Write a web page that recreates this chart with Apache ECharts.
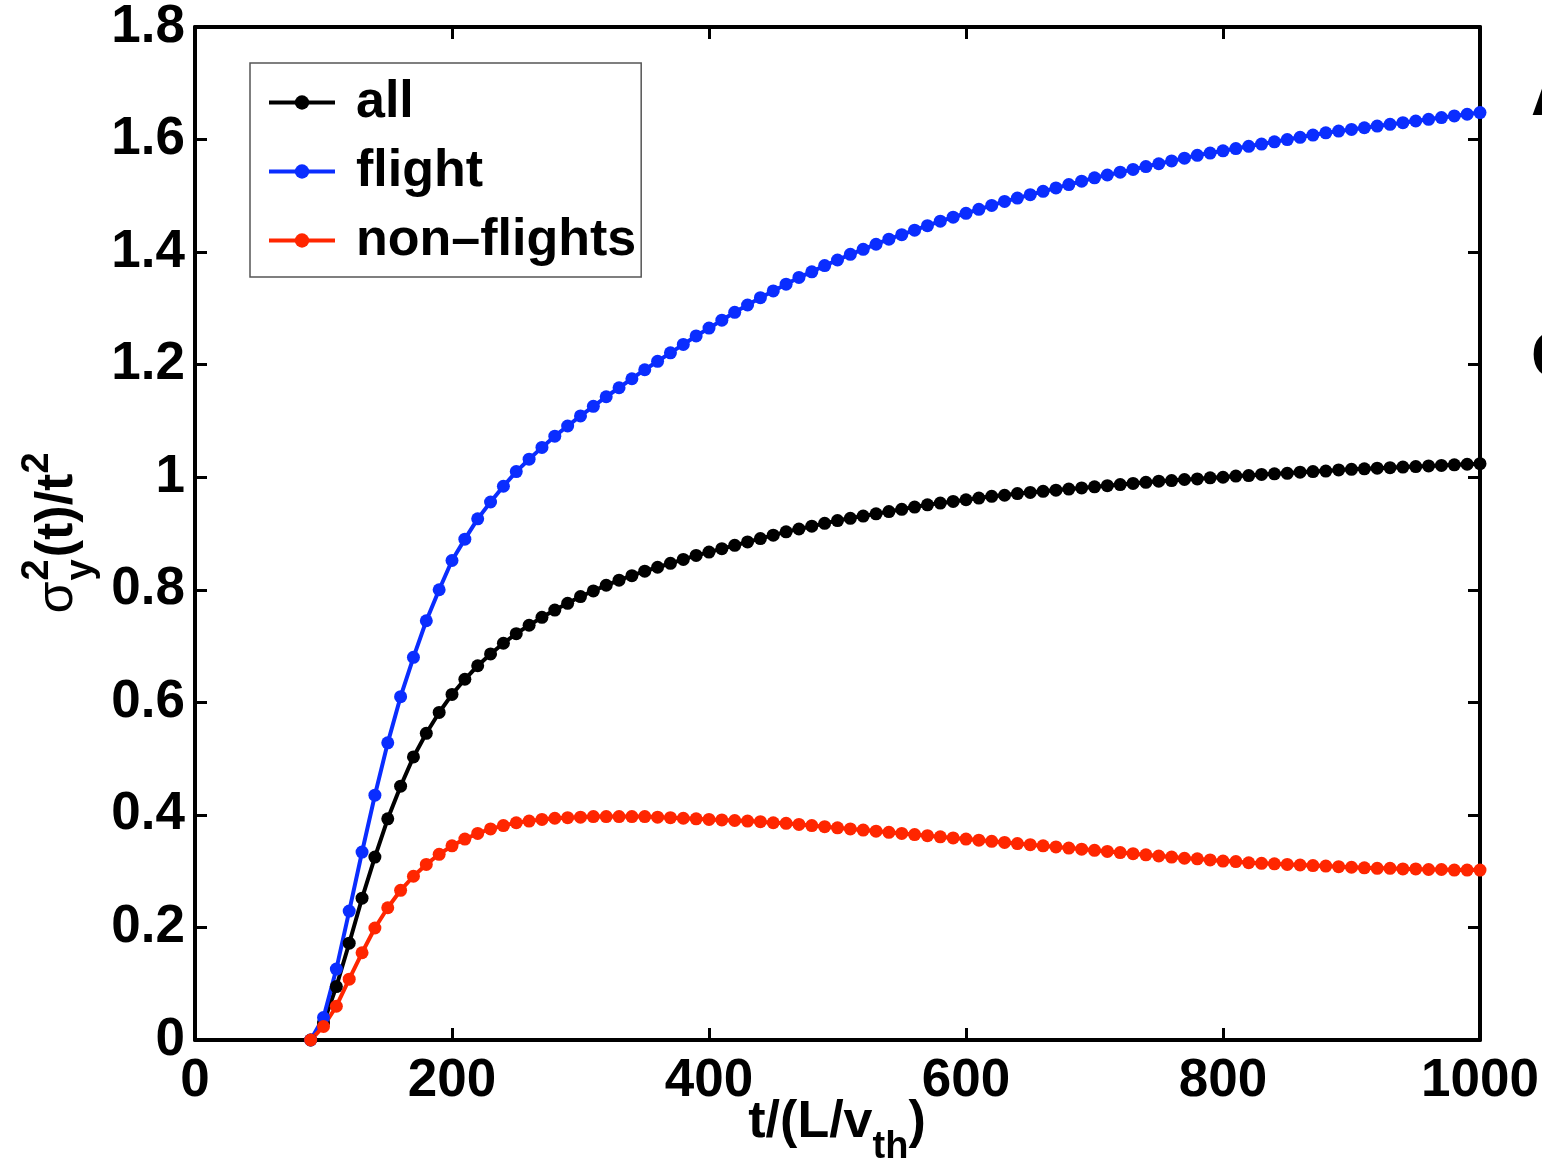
<!DOCTYPE html>
<html>
<head>
<meta charset="utf-8">
<script src="https://cdn.jsdelivr.net/npm/echarts@6/dist/echarts.min.js"></script>
<style>
  html, body { margin: 0; padding: 0; background: #ffffff; }
  #chart { width: 1542px; height: 1162px; }
</style>
</head>
<body>
<div id="chart"></div>
<script>
// Sample times t/(L/v_th)
const tValues = [90,100,110,120,130,140,150,160,170,180,190,200,210,220,230,240,250,260,270,280,290,300,310,320,330,340,350,360,370,380,390,400,410,420,430,440,450,460,470,480,490,500,510,520,530,540,550,560,570,580,590,600,610,620,630,640,650,660,670,680,690,700,710,720,730,740,750,760,770,780,790,800,810,820,830,840,850,860,870,880,890,900,910,920,930,940,950,960,970,980,990,1000];

// sigma_y^2(t)/t^2 for all particles
const allValues = [0.000,0.030,0.095,0.172,0.252,0.325,0.393,0.451,0.503,0.545,0.582,0.614,0.641,0.665,0.686,0.705,0.722,0.737,0.751,0.764,0.776,0.788,0.798,0.808,0.817,0.825,0.833,0.840,0.847,0.854,0.861,0.867,0.873,0.879,0.885,0.891,0.897,0.903,0.908,0.913,0.918,0.923,
  0.927,0.931,0.935,0.939,0.943,0.947,0.951,0.954,0.957,0.960,0.963,0.966,0.968,0.971,0.973,0.975,0.977,0.979,0.981,0.983,0.985,0.987,0.989,0.991,0.993,0.994,0.996,0.997,0.999,1.000,1.002,1.003,1.005,1.006,1.007,1.009,1.010,1.011,1.013,1.014,1.015,1.016,1.017,1.018,1.019,1.020,1.021,1.022,1.023,1.024];

// flights only
const flightValues = [0.000,0.040,0.126,0.229,0.334,0.435,0.528,0.610,0.680,0.745,0.800,0.852,0.890,0.926,0.956,0.984,1.010,1.032,1.053,1.073,1.091,1.109,1.126,1.143,1.159,1.175,1.191,1.206,1.221,1.236,1.251,1.265,1.279,1.293,1.306,1.319,1.331,1.343,1.355,1.365,1.376,1.386,
  1.396,1.405,1.414,1.423,1.431,1.439,1.447,1.455,1.462,1.469,1.476,1.483,1.490,1.496,1.502,1.508,1.514,1.520,1.526,1.532,1.537,1.542,1.547,1.552,1.557,1.562,1.567,1.572,1.576,1.580,1.584,1.588,1.592,1.596,1.600,1.604,1.608,1.612,1.615,1.618,1.621,1.624,1.627,1.630,1.633,1.636,1.639,1.642,1.645,1.648];

// non-flights
const nonFlightValues = [0.000,0.024,0.060,0.108,0.155,0.199,0.235,0.266,0.291,0.312,0.330,0.345,0.357,0.367,0.375,0.381,0.386,0.389,0.392,0.394,0.395,0.396,0.397,0.397,0.397,0.397,0.397,0.396,0.395,0.394,0.393,0.392,0.391,0.390,0.389,0.388,0.386,0.385,0.383,0.381,0.379,0.377,
  0.375,0.373,0.371,0.369,0.367,0.365,0.363,0.361,0.359,0.357,0.355,0.353,0.351,0.349,0.347,0.345,0.343,0.341,0.339,0.337,0.335,0.333,0.331,0.329,0.327,0.325,0.323,0.322,0.320,0.318,0.317,0.315,0.314,0.313,0.312,0.311,0.310,0.309,0.308,0.307,0.306,0.305,0.305,0.304,0.304,0.303,0.303,0.302,0.302,0.302];

const seriesNames = ['all', 'flight', 'non\u2013flights'];
const seriesColors = ['#000000', '#0a2dff', '#ff2600'];

const xTickLabels = ['0', '200', '400', '600', '800', '1000'];
const yTickLabels = ['0', '0.2', '0.4', '0.6', '0.8', '1', '1.2', '1.4', '1.6', '1.8'];

const FONT = '"Liberation Sans", Arial, Helvetica, sans-serif';

const measureCtx = document.createElement('canvas').getContext('2d');
function textWidth(text, size, weight) {
  measureCtx.font = weight + ' ' + size + 'px ' + FONT;
  return measureCtx.measureText(text).width;
}

// text piece placed by its baseline
function piece(text, x, baseline, size, weight) {
  return {
    type: 'text',
    x: x,
    y: baseline - 0.36 * size,
    silent: true,
    style: {
      text: text,
      font: weight + ' ' + size + 'px ' + FONT,
      fill: '#000',
      textAlign: 'left', align: 'left',
      textVerticalAlign: 'middle', verticalAlign: 'middle'
    }
  };
}

// x-axis title: t/(L/v_th)
function xTitle() {
  const F = 52, f = 38;
  const w1 = textWidth('t/(L/v', F, 'bold');
  const w2 = textWidth('th', f, 'bold');
  const w3 = textWidth(')', F, 'bold');
  const total = w1 + w2 + w3;
  const x0 = 837 - total / 2;
  const B = 1141;
  return {
    type: 'group',
    children: [
      piece('t/(L/v', x0, B, F, 'bold'),
      piece('th', x0 + w1, B + 20, f, 'bold'),
      piece(')', x0 + w1 + w2, B, F, 'bold')
    ]
  };
}

// y-axis title: sigma_y^2(t)/t^2, reading bottom to top
function yTitle() {
  const F = 52, f = 38;
  const wS = textWidth('\u03c3', F, 'normal');
  const w2 = textWidth('2', f, 'bold');
  const wy = textWidth('y', f, 'bold');
  const wMain = textWidth('(t)/t', F, 'bold');
  const wSup = textWidth('2', f, 'bold');
  const xStack = wS + 1;
  const xMain = xStack + Math.max(w2, wy) + 2;
  const total = xMain + wMain + wSup;
  return {
    type: 'group',
    x: 76,
    y: 533 + total / 2,
    rotation: Math.PI / 2,
    children: [
      piece('\u03c3', 0, 0, F, 'normal'),
      piece('2', xStack, -0.47 * F, f, 'bold'),
      piece('y', xStack, 0.36 * F, f, 'bold'),
      piece('(t)/t', xMain, 0, F, 'bold'),
      piece('2', xMain + wMain, -0.47 * F, f, 'bold')
    ]
  };
}

const chart = echarts.init(document.getElementById('chart'), null, { renderer: 'canvas' });

const axisLineStyle = { color: '#000', width: 4 };
const tickStyle = { color: '#000', width: 3 };
const labelStyle = { fontSize: 53, fontWeight: 'bold', fontFamily: FONT, color: '#000' };

function lineSeries(name, color, values) {
  return {
    name: name,
    type: 'line',
    xAxisIndex: 0,
    yAxisIndex: 0,
    data: tValues.map((t, i) => [t, values[i]]),
    symbol: 'circle',
    symbolSize: 13,
    showAllSymbol: true,
    lineStyle: { color: color, width: 4 },
    itemStyle: { color: color },
    emphasis: { disabled: true },
    clip: false,
    animation: false
  };
}

chart.setOption({
  animation: false,
  backgroundColor: '#ffffff',
  grid: { left: 195, top: 27, right: 62, bottom: 122, containLabel: false },
  xAxis: [
    {
      type: 'value', min: 0, max: 1000, interval: 200, position: 'bottom',
      axisLine: { show: true, onZero: false, lineStyle: axisLineStyle },
      axisTick: { show: true, inside: true, length: 12, lineStyle: tickStyle },
      axisLabel: Object.assign({ margin: 15, formatter: (v) => xTickLabels[Math.round(v / 200)] }, labelStyle),
      splitLine: { show: false }
    },
    {
      type: 'value', min: 0, max: 1000, interval: 200, position: 'top',
      axisLine: { show: true, onZero: false, lineStyle: axisLineStyle },
      axisTick: { show: true, inside: true, length: 12, lineStyle: tickStyle },
      axisLabel: { show: false },
      splitLine: { show: false }
    }
  ],
  yAxis: [
    {
      type: 'value', min: 0, max: 1.8, interval: 0.2, position: 'left',
      axisLine: { show: true, onZero: false, lineStyle: axisLineStyle },
      axisTick: { show: true, inside: true, length: 12, lineStyle: tickStyle },
      axisLabel: Object.assign({ margin: 10, formatter: (v) => yTickLabels[Math.round(v / 0.2)] }, labelStyle),
      splitLine: { show: false }
    },
    {
      type: 'value', min: 0, max: 1.8, interval: 0.2, position: 'right',
      axisLine: { show: true, onZero: false, lineStyle: axisLineStyle },
      axisTick: { show: true, inside: true, length: 12, lineStyle: tickStyle },
      axisLabel: { show: false },
      splitLine: { show: false }
    }
  ],
  legend: {
    orient: 'vertical',
    left: 250,
    top: 63,
    data: seriesNames,
    itemWidth: 66,
    itemHeight: 18,
    itemGap: 12,
    padding: [11, 5, 8, 17],
    borderColor: '#555',
    borderWidth: 1.5,
    backgroundColor: '#ffffff',
    selectedMode: false,
    lineStyle: { width: 4 },
    textStyle: { fontSize: 52, fontWeight: 'bold', fontFamily: FONT, color: '#000', lineHeight: 57, padding: [0, 0, 0, 16] }
  },
  series: [
    lineSeries(seriesNames[0], seriesColors[0], allValues),
    lineSeries(seriesNames[1], seriesColors[1], flightValues),
    lineSeries(seriesNames[2], seriesColors[2], nonFlightValues)
  ],
  graphic: [
    xTitle(),
    yTitle(),
    piece('A', 1531, 120, 64, 'bold'),
    piece('C', 1531, 382, 64, 'bold')
  ]
});
</script>
</body>
</html>
